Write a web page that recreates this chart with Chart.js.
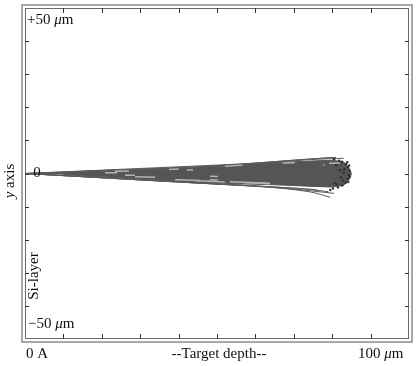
<!DOCTYPE html>
<html>
<head>
    <title>Ion trajectories - Si-layer</title>
    <script src="https://cdn.jsdelivr.net/npm/chart.js"></script>
    <style>
        body {
            margin: 0;
            background: white;
        }
        canvas {
            display: block;
        }
    </style>
</head>
<body>
    <canvas id="traj" width="417" height="366"></canvas>

    <script>
        // Axis ranges (µm) and tick marks
        const depthRange = [0, 100];
        const lateralRange = [-50, 50];
        const depthTicks = [10, 20, 30, 40, 50, 60, 70, 80, 90];
        const lateralTicks = [-40, -30, -20, -10, 0, 10, 20, 30, 40];

        // Outline of the dense trajectory bundle (depth, upper edge, lower edge) in µm
        const envDepth = [0, 9, 15, 25, 35, 45, 55, 65, 75, 80, 83, 84.5, 85];
        const envUpper = [0, 0.15, 0.7, 1.1, 1.5, 2.0, 2.7, 3.3, 3.8, 4.0, 3.5, 1.5, 0];
        const envLower = [0, -0.15, -0.7, -1.3, -2.0, -2.7, -3.1, -3.4, -3.9, -4.1, -3.6, -1.8, 0];

        // Straggling trajectories leaving the bundle, [depth, y] in µm
        const strayTracks = [
            [[0, 0], [40, 1.6], [65, 3.6], [76, 4.5], [80, 4.8]],
            [[0, 0], [50, 2.3], [72, 4.2], [81, 4.9]],
            [[0, 0], [60, 3.1], [76, 4.3], [83, 4.6]],
            [[0, 0], [40, -2.6], [62, -4.0], [74, -5.5], [79.5, -7.2]],
            [[0, 0], [50, -3.2], [68, -4.5], [80.5, -6.0]],
            [[0, 0], [55, -3.4], [73, -4.7], [79, -5.5]],
            [[0, 0], [45, -2.9], [70, -4.4], [76, -4.9]]
        ];

        // Lighter streaks seen inside the bundle
        const lightTracks = [
            [[0, 0], [30, 0.9], [60, 2.4], [82, 3.2]],
            [[0, 0], [35, -1.2], [70, -3.0], [82, -3.3]],
            [[0, 0], [40, -1.9], [65, -3.0], [80, -3.8]],
            [[0, 0], [30, 0.4], [55, 1.8], [78, 2.5]],
            [[0, 0], [45, -2.2], [75, -3.6], [81, -3.9]],
            [[0, 0], [25, -0.5], [50, -0.9], [80, -1.5]],
            [[0, 0], [40, 1.3], [62, 2.9], [79, 3.6]]
        ];
        const lightDashes = [
            [0, 90, 14, 40, 10, 60],
            [0, 110, 20, 55, 8, 45],
            [0, 150, 25, 30, 40, 25],
            [0, 80, 12, 70, 6, 50],
            [0, 170, 30, 20, 25, 35],
            [0, 100, 10, 75, 8, 80],
            [0, 200, 18, 40, 12, 60]
        ];

        // Final ion positions (depth, y) in µm
        const stopDepth = [82.5, 83.6, 84.1, 84.5, 84.3, 84.0, 83.5, 82.6, 81.5, 80.2, 81.8, 80.5, 83.0,
                           82.2, 83.2, 81.0, 80.6, 82.8, 84.6, 84.4, 79.5, 83.9, 81.2, 82.0, 84.2];
        const stopY = [3.6, 2.8, 1.9, 0.8, -0.4, -1.6, -2.8, -3.6, -4.2, -4.5, 3.9, 4.3, 0.2,
                       -1.2, 1.3, 2.5, -2.9, -2.2, -0.9, 2.4, -5.0, 3.4, -3.3, 1.0, -2.6];

        const toPoints = arr => arr.map(p => ({ x: p[0], y: p[1] }));

        // Closed outline: along the upper edge, back along the lower edge
        const envelope = envDepth.map((d, i) => ({ x: d, y: envUpper[i] }))
            .concat(envDepth.slice().reverse().map((d, i) => ({ x: d, y: envLower[envDepth.length - 1 - i] })));

        // higher "order" is drawn first, i.e. underneath
        const datasets = [];
        datasets.push({
            data: envelope,
            order: 10,
            showLine: true,
            fill: 'shape',
            backgroundColor: '#555555',
            borderColor: '#555555',
            borderWidth: 1,
            pointRadius: 0
        });
        strayTracks.forEach(t => {
            datasets.push({
                data: toPoints(t),
                order: 5,
                showLine: true,
                borderColor: '#5a5a5a',
                borderWidth: 1,
                tension: 0.3,
                pointRadius: 0
            });
        });
        lightTracks.forEach((t, i) => {
            datasets.push({
                data: toPoints(t),
                order: 3,
                showLine: true,
                borderColor: '#b4b4b4',
                borderWidth: 1.5,
                borderDash: lightDashes[i],
                tension: 0.3,
                pointRadius: 0
            });
        });
        datasets.push({
            data: stopDepth.map((d, i) => ({ x: d, y: stopY[i] })),
            order: 1,
            showLine: false,
            pointRadius: 1.2,
            pointBorderWidth: 0,
            pointBackgroundColor: '#2e2e2e'
        });

        const serif = '"Liberation Serif", "DejaVu Serif", serif';

        // Writes "<prefix>" followed by an italic mu and "m"
        function micron(ctx, prefix, x, y) {
            ctx.font = '15px ' + serif;
            ctx.fillText(prefix, x, y);
            let w = ctx.measureText(prefix).width;
            ctx.font = 'italic 15px ' + serif;
            ctx.fillText('\u03bc', x + w, y);
            w += ctx.measureText('\u03bc').width;
            ctx.font = '15px ' + serif;
            ctx.fillText('m', x + w, y);
        }

        const framePlugin = {
            id: 'frame',
            afterDraw(chart) {
                const ctx = chart.ctx;
                const a = chart.chartArea;
                const xs = chart.scales.x;
                const ys = chart.scales.y;
                ctx.save();

                // double frame
                ctx.strokeStyle = '#8a8a8a';
                ctx.lineWidth = 1.5;
                ctx.strokeRect(a.left - 3, a.top - 3, a.right - a.left + 6, a.bottom - a.top + 6);
                ctx.strokeStyle = '#6a6a6a';
                ctx.lineWidth = 1;
                ctx.strokeRect(a.left + 0.5, a.top + 0.5, a.right - a.left - 1, a.bottom - a.top - 1);

                // tick marks on all four sides
                ctx.strokeStyle = '#333';
                ctx.beginPath();
                depthTicks.forEach(t => {
                    const px = Math.round(xs.getPixelForValue(t)) + 0.5;
                    ctx.moveTo(px, a.top);
                    ctx.lineTo(px, a.top + 5);
                    ctx.moveTo(px, a.bottom);
                    ctx.lineTo(px, a.bottom - 5);
                });
                lateralTicks.forEach(t => {
                    const py = Math.round(ys.getPixelForValue(t)) + 0.5;
                    ctx.moveTo(a.left, py);
                    ctx.lineTo(a.left + 4, py);
                    ctx.moveTo(a.right, py);
                    ctx.lineTo(a.right - 4, py);
                });
                ctx.stroke();

                // labels
                ctx.fillStyle = '#111';
                ctx.textBaseline = 'middle';
                ctx.textAlign = 'left';
                micron(ctx, '+50 ', a.left + 2, ys.getPixelForValue(lateralRange[1]) + 12);
                micron(ctx, '\u221250 ', a.left + 3, ys.getPixelForValue(lateralRange[0]) - 15);

                ctx.font = '15px ' + serif;
                ctx.textAlign = 'center';
                ctx.fillText('0', a.left + 12, ys.getPixelForValue(0));

                const by = a.bottom + 15;
                ctx.textAlign = 'left';
                ctx.fillText('0 A', a.left + 1, by);
                ctx.textAlign = 'center';
                ctx.fillText('--Target depth--', (a.left + a.right) / 2 + 2, by);
                ctx.textAlign = 'left';
                micron(ctx, '100 ', a.right - 51, by);

                // rotated side labels
                ctx.save();
                ctx.translate(10, 181);
                ctx.rotate(-Math.PI / 2);
                ctx.textAlign = 'left';
                ctx.font = 'italic 15px ' + serif;
                const yw = ctx.measureText('y').width;
                ctx.font = '15px ' + serif;
                const tw = yw + ctx.measureText(' axis').width;
                ctx.font = 'italic 15px ' + serif;
                ctx.fillText('y', -tw / 2, 0);
                ctx.font = '15px ' + serif;
                ctx.fillText(' axis', -tw / 2 + yw, 0);
                ctx.restore();

                ctx.save();
                ctx.translate(a.left + 9, 276);
                ctx.rotate(-Math.PI / 2);
                ctx.textAlign = 'center';
                ctx.font = '15px ' + serif;
                ctx.fillText('Si-layer', 0, 0);
                ctx.restore();

                ctx.restore();
            }
        };

        new Chart(document.getElementById('traj').getContext('2d'), {
            type: 'scatter',
            data: { datasets: datasets },
            options: {
                responsive: false,
                animation: false,
                layout: {
                    padding: { left: 25, right: 8, top: 8, bottom: 27 }
                },
                plugins: {
                    legend: { display: false },
                    tooltip: { enabled: false }
                },
                scales: {
                    x: { type: 'linear', display: false, min: depthRange[0], max: depthRange[1] },
                    y: { type: 'linear', display: false, min: lateralRange[0], max: lateralRange[1] }
                }
            },
            plugins: [framePlugin]
        });
    </script>
</body>
</html>
